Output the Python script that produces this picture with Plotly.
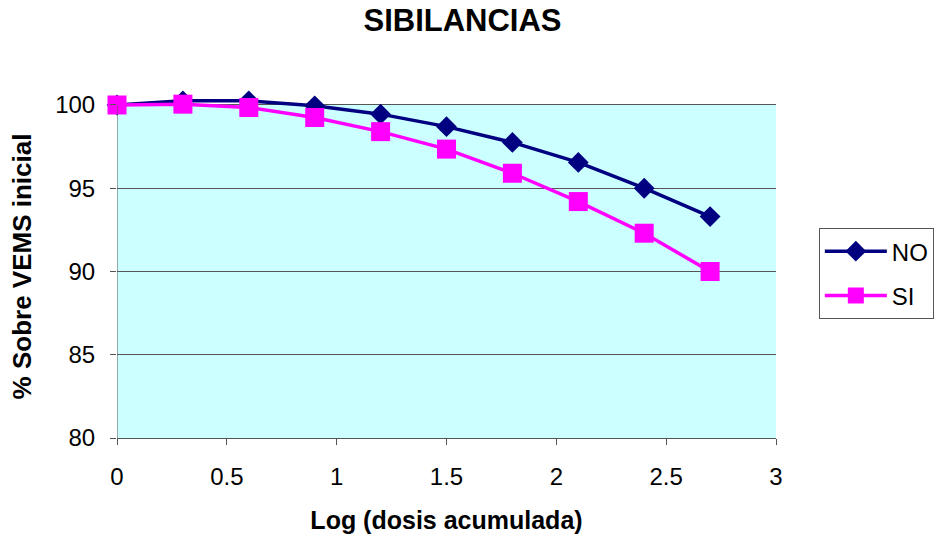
import plotly.graph_objects as go

x_vals = [0, 0.3, 0.6, 0.9, 1.2, 1.5, 1.8, 2.1, 2.4, 2.7]
no_vals = [100.0, 100.25, 100.25, 99.95, 99.45, 98.7, 97.75, 96.55, 95.0, 93.3]
si_vals = [100.0, 100.05, 99.85, 99.25, 98.4, 97.35, 95.9, 94.2, 92.3, 90.0]
x_ticks = [0, 0.5, 1, 1.5, 2, 2.5, 3]
y_ticks = [80, 85, 90, 95, 100]

font = "Liberation Sans, Arial, sans-serif"
axis_col = "#555555"

fig = go.Figure()
fig.add_trace(go.Scatter(
    x=x_vals, y=no_vals, name="NO", mode="lines+markers", legendgroup="a",
    line=dict(color="#000080", width=3.5),
    marker=dict(symbol="diamond", size=16, color="#000080"),
    cliponaxis=False))
fig.add_trace(go.Scatter(
    x=x_vals, y=si_vals, name="SI", mode="lines+markers", legendgroup="b",
    line=dict(color="#FF00FF", width=3.5),
    marker=dict(symbol="square", size=19, color="#FF00FF"),
    cliponaxis=False))

# cyan plot background only up to 100
fig.add_shape(type="rect", xref="x", yref="y", x0=0, x1=3, y0=80, y1=100,
              fillcolor="#CCFFFF", line=dict(width=0), layer="below")
# y axis line only up to 100
fig.add_shape(type="line", xref="x", yref="y", x0=0, x1=0, y0=80, y1=100,
              line=dict(color=axis_col, width=1), layer="above")

fig.update_layout(
    width=937, height=537,
    margin=dict(l=117, r=161, t=95, b=99, autoexpand=False),
    paper_bgcolor="white", plot_bgcolor="white",
    font=dict(family=font, size=24, color="black"),
    title=dict(text="<b>SIBILANCIAS</b>", x=0.4936, xanchor="center", xref="container",
               y=0.962, yanchor="middle", font=dict(size=31, family=font)),
    showlegend=True,
    legend=dict(x=1.065, xanchor="left", y=0.612, yanchor="top",
                bordercolor=axis_col, borderwidth=1, bgcolor="white",
                font=dict(size=24, family=font), traceorder="grouped",
                tracegroupgap=10, itemwidth=62),
    xaxis=dict(range=[0, 3], tickvals=x_ticks, showgrid=False, zeroline=False,
               showline=True, linecolor=axis_col, linewidth=1, automargin=False,
               ticks="outside", ticklen=6, tickcolor=axis_col,
               tickfont=dict(size=24), ticklabelstandoff=11,
               title=dict(text="<b>Log (dosis acumulada)</b>", font=dict(size=25), standoff=22)),
    yaxis=dict(range=[80, 100.6], tickvals=y_ticks, showgrid=True,
               gridcolor=axis_col, gridwidth=1, zeroline=False,
               showline=False, automargin=False,
               ticks="outside", ticklen=6, tickcolor=axis_col,
               tickfont=dict(size=24), ticklabelstandoff=10,
               title=dict(text="<b>% Sobre VEMS inicial</b>", font=dict(size=26), standoff=16)),
)

fig.write_html("out.html")
